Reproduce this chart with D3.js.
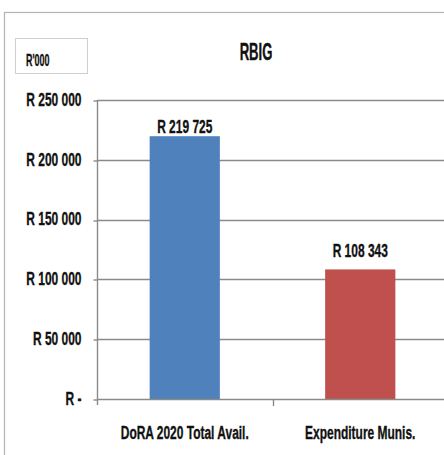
<!DOCTYPE html>
<html>
<head>
<meta charset="utf-8">
<script src="https://cdn.jsdelivr.net/npm/d3@7"></script>
<style>
  html, body { margin: 0; padding: 0; background: #fff; }
  svg { display: block; }
  text { font-family: "Liberation Sans", Arial, sans-serif; font-weight: bold; fill: #111; stroke: #111; stroke-width: 0.35px; }
</style>
</head>
<body>
<script>
// RBIG allocation vs municipal expenditure (R'000)
const categories = ["DoRA 2020 Total Avail.", "Expenditure Munis."];
const values = [219725, 108343];
const valueLabels = ["R 219 725", "R 108 343"];
const yTicks = [0, 50000, 100000, 150000, 200000, 250000];
const yTickLabels = ["R -", "R 50 000", "R 100 000", "R 150 000", "R 200 000", "R 250 000"];
const barColors = ["#4f81bd", "#c0504d"];
const title = "RBIG";
const unitLabel = "R'000";

const W = 444, H = 455;
const svg = d3.select("body").append("svg").attr("width", W).attr("height", H);

const plot = { left: 97, right: 448, top: 100, bottom: 399 };

const x = d3.scaleBand().domain(categories).range([plot.left, plot.right]).padding(0);
const y = d3.scaleLinear().domain([0, 250000]).range([plot.bottom, plot.top]);

const SX = 0.63; // horizontal condensing of chart text

function label(sel, px, py, str, size, anchor, sx = SX) {
  return sel.append("text")
    .attr("transform", `translate(${px},${py}) scale(${sx},1)`)
    .attr("text-anchor", anchor)
    .style("font-size", size + "px")
    .text(str);
}

// outer chart frame (runs past the window edges)
svg.append("rect")
  .attr("x", 4.5).attr("y", 12.5).attr("width", 600).attr("height", 600)
  .attr("fill", "none").attr("stroke", "#b4b4b4").attr("stroke-width", 1.2);

// unit box
svg.append("rect")
  .attr("x", 15.5).attr("y", 38.5).attr("width", 72).attr("height", 35)
  .attr("fill", "#fff").attr("stroke", "#cfcfcf").attr("stroke-width", 1);
label(svg, 26, 65.5, unitLabel, 16, "start", 0.56);

// title
label(svg, 256, 59.5, title, 23, "middle", 0.57);

// horizontal gridlines
svg.append("g").selectAll("line")
  .data(yTicks.filter(d => d > 0))
  .join("line")
  .attr("x1", plot.left).attr("x2", W + 10)
  .attr("y1", d => Math.round(y(d)) + 0.5).attr("y2", d => Math.round(y(d)) + 0.5)
  .attr("stroke", "#8a8a8a").attr("stroke-width", 1.4);

// y axis ticks
const yAxis = svg.append("g")
  .attr("transform", `translate(${plot.left + 0.5},0)`)
  .call(d3.axisLeft(y).tickValues(yTicks).tickSize(4).tickFormat(""));
yAxis.select(".domain").remove();
yAxis.selectAll(".tick line").attr("stroke", "#8a8a8a").attr("stroke-width", 1.4)
  .attr("transform", d => `translate(0,${Math.round(y(d)) + 0.5 - y(d)})`);
svg.append("line")
  .attr("x1", plot.left + 0.5).attr("x2", plot.left + 0.5)
  .attr("y1", plot.top).attr("y2", plot.bottom + 6)
  .attr("stroke", "#8a8a8a").attr("stroke-width", 1.4);

yTicks.forEach((t, i) => {
  label(svg, 81.5, y(t) + 5.8, yTickLabels[i], 19, "end");
});

// bars
const barW = x.bandwidth() * 0.4;
svg.append("g").selectAll("rect")
  .data(values)
  .join("rect")
  .attr("x", (d, i) => x(categories[i]) + (x.bandwidth() - barW) / 2)
  .attr("width", barW)
  .attr("y", d => y(d))
  .attr("height", d => plot.bottom - y(d))
  .attr("fill", (d, i) => barColors[i]);

// baseline + category axis
const xAxis = svg.append("g")
  .attr("transform", `translate(0,${plot.bottom + 0.5})`)
  .call(d3.axisBottom(x).tickSize(0).tickFormat(""));
xAxis.select(".domain").remove();
svg.append("line")
  .attr("x1", plot.left).attr("x2", W + 10)
  .attr("y1", plot.bottom + 0.5).attr("y2", plot.bottom + 0.5)
  .attr("stroke", "#8a8a8a").attr("stroke-width", 1.6);
// boundary tick between categories
svg.append("line")
  .attr("x1", Math.round(x(categories[1])) + 0.5).attr("x2", Math.round(x(categories[1])) + 0.5)
  .attr("y1", plot.bottom).attr("y2", plot.bottom + 7)
  .attr("stroke", "#8a8a8a").attr("stroke-width", 1.4);

categories.forEach((c, i) => {
  label(svg, x(c) + x.bandwidth() / 2, 439, c, 19, "middle");
});

// value labels above bars
const labelGap = [3, 12];
values.forEach((v, i) => {
  label(svg, x(categories[i]) + x.bandwidth() / 2, y(v) - labelGap[i], valueLabels[i], 19, "middle");
});
</script>
</body>
</html>
